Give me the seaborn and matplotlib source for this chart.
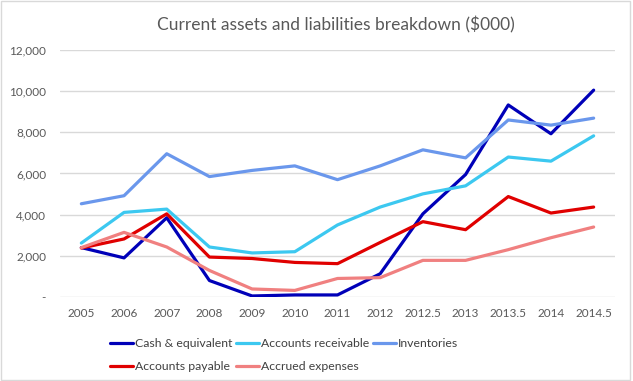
import pandas as pd
import numpy as np
import matplotlib.pyplot as plt
import seaborn as sns
from matplotlib.ticker import FuncFormatter

# ------------------------------------------
# Data
# ------------------------------------------

years = ['2005', '2006', '2007', '2008', '2009', '2010', '2011',
         '2012', '2012.5', '2013', '2013.5', '2014', '2014.5']

cash = [2400, 1900, 3850, 800, 50, 100, 100, 1130, 4040, 5950, 9330, 7930, 10050]
receivable = [2620, 4110, 4270, 2430, 2140, 2200, 3500, 4370, 5010, 5400, 6800, 6600, 7830]
inventories = [4530, 4920, 6960, 5850, 6150, 6370, 5700, 6370, 7150, 6760, 8600, 8350, 8690]
payable = [2380, 2820, 4040, 1940, 1870, 1680, 1620, 2650, 3660, 3270, 4880, 4080, 4370]
accrued = [2400, 3140, 2430, 1290, 390, 320, 900, 940, 1780, 1780, 2300, 2880, 3400]

series_names = ['Cash & equivalent', 'Accounts receivable', 'Inventories',
                'Accounts payable', 'Accrued expenses']
colors = ['#0000B8', '#3CC8F0', '#6A97EC', '#E00000', '#F08080']

# ------------------------------------------
# Long-form table
# ------------------------------------------

frames = []
for name, vals in zip(series_names, [cash, receivable, inventories, payable, accrued]):
    frames.append(pd.DataFrame({'year': years, 'value': vals, 'series': name}))
df = pd.concat(frames, ignore_index=True)

# ------------------------------------------
# Plot
# ------------------------------------------

sns.set_style('white')
plt.rcParams['font.family'] = ['Lato', 'DejaVu Sans']

fig = plt.figure(figsize=(6.33, 3.81), dpi=100)
ax = fig.add_axes([60 / 633, 1 - 297 / 381, 555 / 633, 247 / 381])

sns.lineplot(
    data=df,
    x='year',
    y='value',
    hue='series',
    hue_order=series_names,
    palette=colors,
    linewidth=2.3,
    sort=False,
    ax=ax
)

ax.set_xlim(-0.5, len(years) - 0.5)
ax.set_ylim(0, 12000)
ax.set_yticks(np.arange(0, 12001, 2000))
ax.yaxis.set_major_formatter(FuncFormatter(lambda v, p: '-' if v == 0 else f'{int(v):,}'))
ax.grid(axis='y', color='#D9D9D9', linewidth=1)
ax.set_axisbelow(True)
for s in ax.spines.values():
    s.set_visible(False)
ax.tick_params(axis='both', length=0, labelsize=8.5, colors='#595959', pad=8)
ax.tick_params(axis='y', pad=10)
ax.set_xlabel('')
ax.set_ylabel('')

fig.text(336 / 633, 1 - 25 / 381, 'Current assets and liabilities breakdown ($000)',
         ha='center', va='center', fontsize=12.5, color='#595959')

handles, labels = ax.get_legend_handles_labels()
order = [0, 3, 1, 4, 2]
ax.legend([handles[i] for i in order], [labels[i] for i in order],
          ncol=3, loc='center', bbox_to_anchor=(284 / 633, 1 - 355 / 381),
          bbox_transform=fig.transFigure, frameon=False, fontsize=8.8,
          handlelength=1.9, handletextpad=0.15, columnspacing=0.3,
          labelspacing=0.95, labelcolor='#404040')

# chart border
fig.patches.append(plt.Rectangle((0.002, 0.003), 0.994, 0.994, transform=fig.transFigure,
                                 fill=False, edgecolor='#D9D9D9', linewidth=1))

fig.savefig('out.png', dpi=100)
